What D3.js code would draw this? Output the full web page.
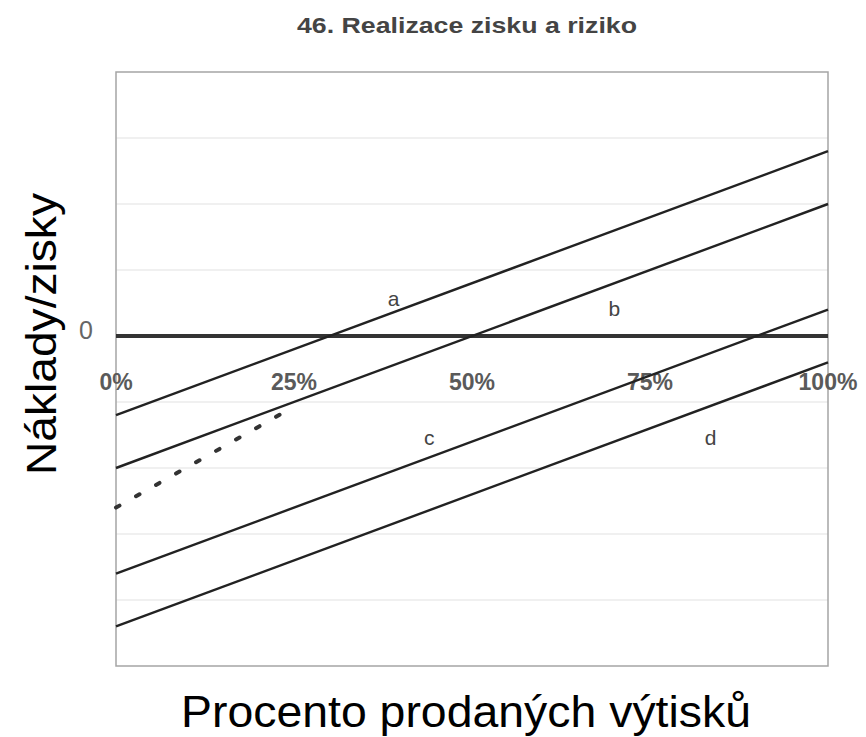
<!DOCTYPE html>
<html lang="cs">
<head>
<meta charset="utf-8">
<title>Realizace zisku a riziko</title>
<script src="https://d3js.org/d3.v7.min.js"></script>
<style>
  body { margin: 0; background: #fff; font-family: "Liberation Sans", Arial, sans-serif; }
</style>
</head>
<body>
<div id="chart"></div>
<script>
// data: percent of copies sold vs costs/profits (arbitrary units)
var pctTicks = [0, 25, 50, 75, 100];
var seriesNames = ["a", "b", "c", "d"];
var startValues = [-1.2, -2.0, -3.6, -4.4];   // value at 0 %
var endValues = [2.8, 2.0, 0.4, -0.4];        // value at 100 %
var dottedLine = [[0, -2.6], [23.7, -1.15]];
// label anchors for a, b, c, d (pct, value)
var labelPct = [39, 70, 44, 83.5];
var labelVal = [0.45, 0.3, -1.65, -1.65];

var W = 866, H = 737;
var margin = {top: 72, right: 38, bottom: 71, left: 116};

var svg = d3.select("#chart").append("svg")
  .attr("width", W)
  .attr("height", H);

var x = d3.scaleLinear().domain([0, 100]).range([margin.left, W - margin.right]);
var y = d3.scaleLinear().domain([-5, 4]).range([H - margin.bottom, margin.top]);

// faint gridlines
svg.append("g")
  .selectAll("line")
  .data(d3.range(-4, 4))
  .join("line")
    .attr("x1", x(0)).attr("x2", x(100))
    .attr("y1", function(d) { return y(d); })
    .attr("y2", function(d) { return y(d); })
    .attr("stroke", "#ebebeb")
    .attr("stroke-width", 1.5);

// plot frame
svg.append("rect")
  .attr("x", x(0)).attr("y", y(4))
  .attr("width", x(100) - x(0))
  .attr("height", y(-5) - y(4))
  .attr("fill", "none")
  .attr("stroke", "#a5a5a5")
  .attr("stroke-width", 1.5);

// zero line
svg.append("line")
  .attr("x1", x(0)).attr("x2", x(100))
  .attr("y1", y(0)).attr("y2", y(0))
  .attr("stroke", "#333")
  .attr("stroke-width", 4);

svg.append("text")
  .attr("x", x(0) - 30)
  .attr("y", y(0) + 3)
  .attr("text-anchor", "middle")
  .attr("font-size", 25)
  .attr("fill", "#666")
  .text("0");

// percent tick labels
svg.append("g")
  .selectAll("text")
  .data(pctTicks)
  .join("text")
    .attr("x", function(d) { return x(d); })
    .attr("y", y(0) + 54)
    .attr("text-anchor", "middle")
    .attr("font-size", 23)
    .attr("font-weight", "bold")
    .attr("fill", "#5a5a5a")
    .text(function(d) { return d + "%"; });

// the four lines
var line = d3.line()
  .x(function(d) { return x(d[0]); })
  .y(function(d) { return y(d[1]); });

svg.append("g")
  .selectAll("path")
  .data(seriesNames.map(function(n, i) { return [[0, startValues[i]], [100, endValues[i]]]; }))
  .join("path")
    .attr("d", line)
    .attr("fill", "none")
    .attr("stroke", "#222")
    .attr("stroke-width", 2.4);

// dotted line
svg.append("path")
  .attr("d", line(dottedLine))
  .attr("fill", "none")
  .attr("stroke", "#333")
  .attr("stroke-width", 4)
  .attr("stroke-linecap", "round")
  .attr("stroke-dasharray", "4 19");

// series labels
svg.append("g")
  .selectAll("text")
  .data(seriesNames)
  .join("text")
    .attr("x", function(d, i) { return x(labelPct[i]); })
    .attr("y", function(d, i) { return y(labelVal[i]); })
    .attr("text-anchor", "middle")
    .attr("font-size", 21)
    .attr("fill", "#444")
    .text(function(d) { return d; });

// title
svg.append("text")
  .attr("x", 467)
  .attr("y", 33)
  .attr("text-anchor", "middle")
  .attr("font-size", 22)
  .attr("font-weight", "bold")
  .attr("fill", "#444")
  .attr("textLength", 340)
  .attr("lengthAdjust", "spacingAndGlyphs")
  .text("46. Realizace zisku a riziko");

// axis titles
svg.append("text")
  .attr("x", 466)
  .attr("y", 727)
  .attr("text-anchor", "middle")
  .attr("font-size", 44)
  .attr("fill", "#000")
  .attr("textLength", 570)
  .attr("lengthAdjust", "spacingAndGlyphs")
  .text("Procento prodaných výtisků");

svg.append("text")
  .attr("transform", "translate(56,334) rotate(-90)")
  .attr("text-anchor", "middle")
  .attr("font-size", 42)
  .attr("fill", "#000")
  .attr("textLength", 282)
  .attr("lengthAdjust", "spacingAndGlyphs")
  .text("Náklady/zisky");
</script>
</body>
</html>
